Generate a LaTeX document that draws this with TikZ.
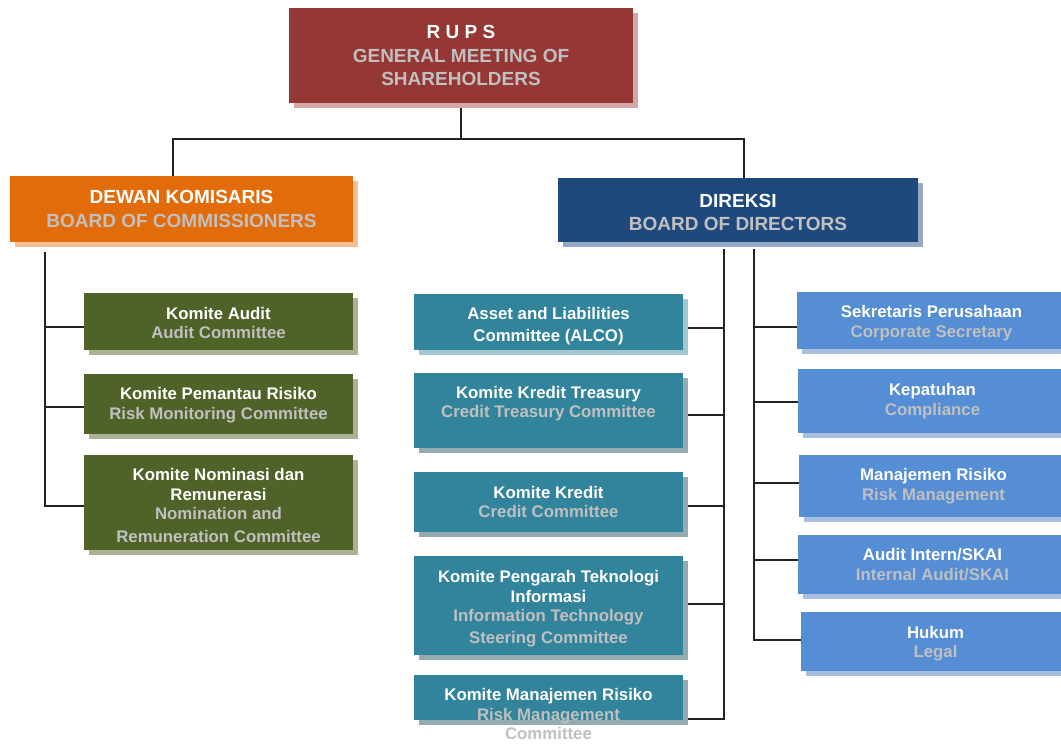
\documentclass[tikz,border=0pt]{standalone}
\usepackage{fontspec}
\setmainfont{Liberation Sans}
\usetikzlibrary{shadows}

\definecolor{rupsred}{HTML}{953735}
\definecolor{rupsshd}{HTML}{D6A6A6}
\definecolor{dkorange}{HTML}{E36C0A}
\definecolor{dkshd}{HTML}{F6C096}
\definecolor{dirblue}{HTML}{1F497D}
\definecolor{dirshd}{HTML}{95A8C4}
\definecolor{kgreen}{HTML}{4F6228}
\definecolor{kgshd}{HTML}{ABB195}
\definecolor{kteal}{HTML}{31849B}
\definecolor{ktshd}{HTML}{94ABB1}
\definecolor{ktshdl}{HTML}{A3C6D3}
\definecolor{ublue}{HTML}{558ED5}
\definecolor{ubshd}{HTML}{A7BEDF}
\definecolor{engray}{HTML}{C0C0C0}
\definecolor{wire}{HTML}{222222}

% English translation lines are set in grey
\newcommand\engl[1]{{\color{engray}#1}}
% invisible strut on a first line: pushes the text block down inside its box
\newcommand\lift[1]{\rule{0pt}{#1}}

\pgfdeclarelayer{paper}
\pgfdeclarelayer{wires}
\pgfsetlayers{paper,wires,main}

\begin{document}
\begin{tikzpicture}[x=1pt,y=-1pt,
  unit/.style={rectangle, inner sep=0pt, align=center, text=white},
  hdr/.style={unit, font=\bfseries\fontsize{19}{23.5}\selectfont},
  cmt/.style={unit, font=\bfseries\fontsize{16.8}{19.5}\selectfont},
  shd/.style={general shadow={fill=#1, shadow xshift=5pt, shadow yshift=-5pt}},
  green/.style={cmt, fill=kgreen, shd=kgshd, minimum width=269},
  teal/.style={cmt, fill=kteal, shd=ktshd, minimum width=269},
  lblue/.style={cmt, fill=ublue, shd=ubshd, minimum width=269},
  conn/.style={draw=wire, line width=1.3pt}]

\useasboundingbox (0,0) rectangle (1061,744);
\clip (0,0) rectangle (1061,744);
\begin{pgfonlayer}{paper}
  \fill[white] (0,0) rectangle (1061,744);
\end{pgfonlayer}

% ---- top level ----
\node[hdr, fill=rupsred, shd=rupsshd, minimum width=344, minimum height=95] (rups) at (461,55.5)
  {R U P S\\\engl{GENERAL MEETING OF}\\\engl{SHAREHOLDERS}};

\node[hdr, fill=dkorange, shd=dkshd, minimum width=343, minimum height=66] (dk) at (181.5,209)
  {DEWAN KOMISARIS\\\engl{BOARD OF COMMISSIONERS}};

\node[hdr, fill=dirblue, shd=dirshd, minimum width=360, minimum height=64] (dir) at (738,210)
  {\lift{18.6pt}DIREKSI\\\engl{BOARD OF DIRECTORS}};

% ---- committees of the board of commissioners ----
\node[green, minimum height=57] (audit) at (218.5,321.5)
  {\lift{15.3pt}Komite Audit\\\engl{Audit Committee}};
\node[green, minimum height=60] (risk) at (218.5,404)
  {\lift{14.3pt}Komite Pemantau Risiko\\\engl{Risk Monitoring Committee}};
\node[green, minimum height=95] (nomi) at (218.5,502.5)
  {\lift{18.3pt}Komite Nominasi dan\\Remunerasi\\\engl{Nomination and}\\[3.5pt]\engl{Remuneration Committee}};

% ---- committees of the board of directors ----
\node[teal, shd=ktshdl, minimum height=56] (alco) at (548.5,322)
  {\lift{20.3pt}Asset and Liabilities\\[2.5pt]Committee (ALCO)};
\node[teal, minimum height=75] (ktr) at (548.5,410.5)
  {\lift{20.3pt}Komite Kredit Treasury\\\engl{Credit Treasury Committee}\\\strut};
\node[teal, minimum height=60] (kkr) at (548.5,502)
  {Komite Kredit\\\engl{Credit Committee}};
\node[teal, minimum height=99] (kti) at (548.5,605.5)
  {\lift{18.3pt}Komite Pengarah Teknologi\\Informasi\\\engl{Information Technology}\\[2pt]\engl{Steering Committee}};
\node[teal, minimum height=45] (kmr) at (548.5,697.5) {};
\node[cmt] (kmrtx) at ([yshift=-16.5pt]kmr.center)
  {Komite Manajemen Risiko\\\engl{Risk Management}\\\engl{Committee}};

% ---- units under the board of directors ----
\node[lblue, minimum height=57] (sek) at (931.5,320.5)
  {\lift{17.3pt}Sekretaris Perusahaan\\\engl{Corporate Secretary}};
\node[lblue, minimum height=64] (kep) at (932.5,401)
  {Kepatuhan\\\engl{Compliance}};
\node[lblue, minimum height=62] (mr) at (933.5,486)
  {Manajemen Risiko\\\engl{Risk Management}};
\node[lblue, minimum height=59] (ai) at (932.5,564.5)
  {Audit Intern/SKAI\\\engl{Internal Audit/SKAI}};
\node[lblue, minimum height=59] (hk) at (935.5,641.5)
  {\lift{16.3pt}Hukum\\\engl{Legal}};

% ---- connectors ----
\coordinate (hubL) at (173,139);
\coordinate (hubR) at (744,139);
\coordinate (lTop) at (45,252);
\coordinate (mTop) at (724,249);
\coordinate (rTop) at (754,249);

\coordinate (auB) at ([yshift=-5.5pt]audit.west);
\coordinate (riB) at ([yshift=-3pt]risk.west);
\coordinate (noB) at ([yshift=-3.5pt]nomi.west);

\coordinate (alB) at ([yshift=-6pt]alco.east);
\coordinate (ktB) at ([yshift=-4.5pt]ktr.east);
\coordinate (kkB) at ([yshift=-4pt]kkr.east);
\coordinate (tiB) at ([yshift=1.5pt]kti.east);
\coordinate (kmB) at ([yshift=-21.5pt]kmr.east);

\coordinate (seB) at ([yshift=-6.5pt]sek.west);
\coordinate (kpB) at ([yshift=-1pt]kep.west);
\coordinate (mrB) at ([yshift=3pt]mr.west);
\coordinate (aiB) at ([yshift=4.5pt]ai.west);
\coordinate (hkB) at ([yshift=1.5pt]hk.west);

\begin{pgfonlayer}{wires}
  \draw[conn] (rups.south) -- (rups.south |- hubL);
  \draw[conn] (hubL |- dk.north) -- (hubL) -- (hubR) -- (hubR |- dir.north);

  \draw[conn] (lTop) |- (noB);
  \draw[conn] (auB) -- (auB -| lTop);
  \draw[conn] (riB) -- (riB -| lTop);

  \draw[conn] (mTop) |- (kmB);
  \draw[conn] (alB) -- (alB -| mTop);
  \draw[conn] (ktB) -- (ktB -| mTop);
  \draw[conn] (kkB) -- (kkB -| mTop);
  \draw[conn] (tiB) -- (tiB -| mTop);

  \draw[conn] (rTop) |- (hkB);
  \draw[conn] (seB) -- (seB -| rTop);
  \draw[conn] (kpB) -- (kpB -| rTop);
  \draw[conn] (mrB) -- (mrB -| rTop);
  \draw[conn] (aiB) -- (aiB -| rTop);
\end{pgfonlayer}
\end{tikzpicture}
\end{document}
